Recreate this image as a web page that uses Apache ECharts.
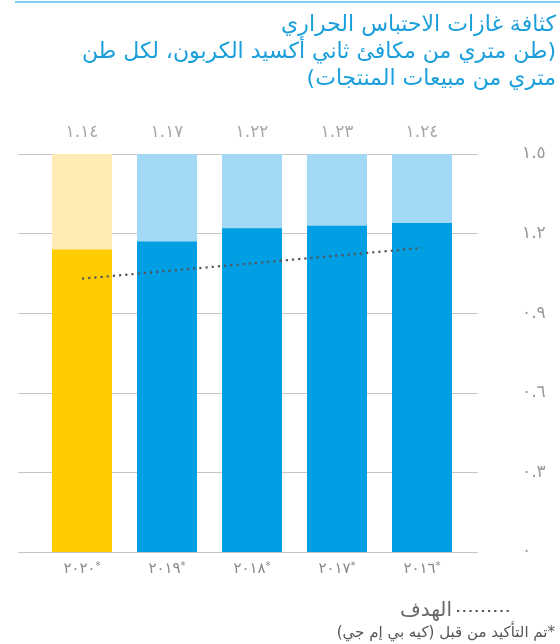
<!DOCTYPE html>
<html>
<head>
<meta charset="utf-8">
<script src="https://cdn.jsdelivr.net/npm/echarts@6/dist/echarts.min.js"></script>
<style>
html,body{margin:0;padding:0;background:#fff;}
#main{width:560px;height:644px;}
</style>
</head>
<body>
<div id="main"></div>
<script>
var categories = ['٢٠٢٠', '٢٠١٩', '٢٠١٨', '٢٠١٧', '٢٠١٦'];
var values = [1.14, 1.17, 1.22, 1.23, 1.24];
var valueLabels = ['١.١٤', '١.١٧', '١.٢٢', '١.٢٣', '١.٢٤'];
var target = [1.03, null, null, null, 1.146];
var yTickLabels = ['٠', '٠.٣', '٠.٦', '٠.٩', '١.٢', '١.٥'];
var barColors = ['#FFCC00', '#009FE3', '#009FE3', '#009FE3', '#009FE3'];
var bgColors = ['#FFEBB3', '#A3D9F6', '#A3D9F6', '#A3D9F6', '#A3D9F6'];
var axisMax = 1.5;

var RLE = '\u202B', PDF = '\u202C';
var titleLines = ['كثافة غازات الاحتباس الحراري', '(طن متري من مكافئ ثاني أكسيد الكربون، لكل طن', 'متري من مبيعات المنتجات)'];
var legendName = 'الهدف';
var footnote = '*تم التأكيد من قبل (كيه بي إم جي)';
var FONT = '"DejaVu Sans", sans-serif';

var chart = echarts.init(document.getElementById('main'), null, {renderer: 'canvas'});
chart.setOption({
  animation: false,
  textStyle: {fontFamily: FONT},
  graphic: [
    {type: 'rect', shape: {x: 15, y: 1, width: 545, height: 2}, style: {fill: '#7FCDEF'}, silent: true},
    {type: 'text', x: 556, y: 12, silent: true,
      style: {text: titleLines.map(function (l) { return RLE + l + PDF; }).join('\n'),
        align: 'right', verticalAlign: 'top', fill: '#1A9FDB', font: '22px ' + FONT, lineHeight: 27}},
    {type: 'text', x: 555, y: 626, silent: true,
      style: {text: RLE + footnote + PDF, align: 'right', verticalAlign: 'top', fill: '#555', font: '15px ' + FONT}}
  ],
  legend: {
    data: [legendName],
    formatter: function (n) { return RLE + n + PDF; },
    right: 45, top: 596,
    align: 'right',
    itemWidth: 52, itemHeight: 14, itemGap: 6,
    itemStyle: {opacity: 0},
    textStyle: {fontFamily: FONT, fontSize: 20, color: '#666'}
  },
  grid: [
    {left: 18, right: 82, top: 154, bottom: 92},
    {left: 39.5, right: 95.5, top: 154, bottom: 92}
  ],
  xAxis: [
    {type: 'category', gridIndex: 0, data: categories, show: false},
    {type: 'category', gridIndex: 1, data: categories,
      axisLine: {show: false}, axisTick: {show: false},
      axisLabel: {
        margin: 9, interval: 0,
        formatter: function (v) { return '{d|' + v + '}{s|*}'; },
        rich: {
          d: {fontFamily: FONT, fontSize: 15, color: '#888'},
          s: {fontFamily: FONT, fontSize: 10, color: '#888', verticalAlign: 'top', padding: [0, 0, 6, 0]}
        }
      }
    }
  ],
  yAxis: [
    {type: 'value', gridIndex: 0, position: 'right', min: 0, max: axisMax, interval: 0.3,
      axisLine: {show: false}, axisTick: {show: false},
      splitLine: {lineStyle: {color: '#C4C4C4', width: 1}},
      axisLabel: {margin: 44, align: 'left', fontFamily: FONT, fontSize: 17, color: '#999',
        formatter: function (v) { return yTickLabels[Math.round(v / 0.3)]; }}
    },
    {type: 'value', gridIndex: 1, min: 0, max: axisMax, show: false}
  ],
  series: [
    {
      type: 'bar', xAxisIndex: 1, yAxisIndex: 1, barWidth: 60, barGap: '-100%', z: 1,
      data: categories.map(function (c, i) { return {value: axisMax, itemStyle: {color: bgColors[i]}}; }),
      label: {show: true, position: 'top', distance: 13, fontFamily: FONT, fontSize: 17, color: '#A8A8A8',
        formatter: function (p) { return valueLabels[p.dataIndex]; }},
      silent: true
    },
    {
      type: 'bar', xAxisIndex: 1, yAxisIndex: 1, barWidth: 60, barGap: '-100%', z: 2,
      data: values.map(function (v, i) { return {value: v, itemStyle: {color: barColors[i]}}; })
    },
    {
      name: legendName, type: 'line', xAxisIndex: 1, yAxisIndex: 1, z: 3,
      data: target, connectNulls: true, symbol: 'none',
      lineStyle: {color: '#555', width: 2.2, type: [2.2, 4], cap: 'butt'},
      itemStyle: {color: '#555'}
    }
  ]
});
</script>
</body>
</html>
